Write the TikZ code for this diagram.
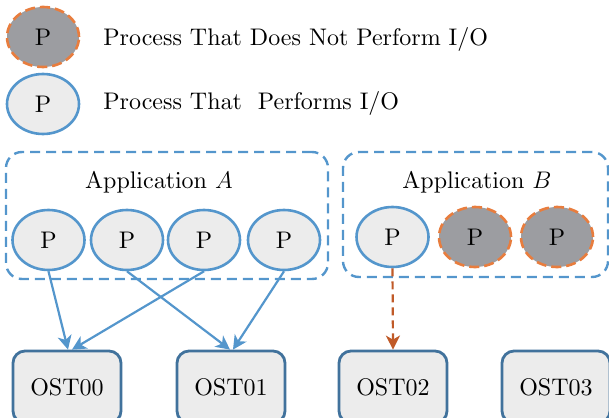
\documentclass[tikz,border=0pt]{standalone}
\usetikzlibrary{shapes.geometric,arrows.meta}
\definecolor{ioblue}{RGB}{84,150,204}
\definecolor{ostblue}{RGB}{65,114,156}
\definecolor{idleorange}{RGB}{232,125,62}
\definecolor{idlegray}{RGB}{156,157,161}
\definecolor{lightfill}{RGB}{236,236,236}
\definecolor{arrowbrown}{RGB}{192,90,40}
% ten-point design size, set at twelve points
\font\labelrm=cmr10 at 12pt
\begin{document}
\begin{tikzpicture}[x=0.5pt,y=-0.5pt,
  every node/.style={font=\fontsize{12}{14}\selectfont\labelrm},
  ioproc/.style={ellipse,draw=ioblue,fill=lightfill,line width=1.3pt,
    minimum width=36pt,minimum height=30pt,inner sep=0pt},
  idleproc/.style={ellipse,draw=idleorange,fill=idlegray,line width=1.3pt,
    dash pattern=on 5pt off 2.5pt,minimum width=36pt,minimum height=30pt,inner sep=0pt},
  appbox/.style={draw=ioblue,line width=1.2pt,dash pattern=on 5pt off 3pt,
    rounded corners=8pt,inner sep=0pt},
  ostbox/.style={draw=ostblue,fill=lightfill,line width=1.4pt,rounded corners=6pt,
    minimum width=54pt,minimum height=36pt,inner sep=0pt},
  ioarrow/.style={draw=ioblue,line width=1.1pt,-{Stealth[length=7pt,width=7pt,inset=2pt]}},
  idlearrow/.style={draw=arrowbrown,line width=1.1pt,dash pattern=on 4pt off 2.5pt,
    -{Stealth[length=7pt,width=7pt,inset=2pt]}},
  legendtext/.style={anchor=west,inner sep=0pt}]
\useasboundingbox (0,0) rectangle (609,417);
\clip (0,0) rectangle (609,417);

% legend
\node[idleproc] (leg1) at (43,37) {P};
\node[legendtext] (leg1t) at (103,40) {Process That Does Not Perform I/O};
\node[ioproc] (leg2) at (43,104) {P};
\node[legendtext] (leg2t) at (103,104) {Process That\ \ Performs I/O};

% application groups
\node[appbox,minimum width=161pt,minimum height=63.5pt] (appA) at (167,215.5) {};
\node[appbox,minimum width=132.5pt,minimum height=62.5pt] (appB) at (475.5,214.5) {};
\node (labA) at (159,182) {Application $A$};
\node (labB) at (477,182) {Application $B$};

% processes
\node[ioproc] (a1) at (48.5,240) {P};
\node[ioproc] (a2) at (127,240) {P};
\node[ioproc] (a3) at (204,240) {P};
\node[ioproc] (a4) at (284,240) {P};
\node[ioproc] (b1) at (392.5,237) {P};
\node[idleproc] (b2) at (475,237) {P};
\node[idleproc] (b3) at (557,237) {P};

% storage targets
\node[ostbox] (ost0) at (67,387) {OST00};
\node[ostbox] (ost1) at (231,387) {OST01};
\node[ostbox] (ost2) at (393,387) {OST02};
\node[ostbox] (ost3) at (556,387) {OST03};

% I/O paths
\draw[ioarrow] (a1.south) -- ([xshift=0.5pt]ost0.north);
\draw[ioarrow] (a3.south) -- ([xshift=2.5pt]ost0.north);
\draw[ioarrow] (a2.south) -- ([xshift=-0.5pt]ost1.north);
\draw[ioarrow] (a4.south) -- ([xshift=1pt]ost1.north);
\draw[idlearrow] (b1.south) -- (ost2.north);
\end{tikzpicture}
\end{document}
